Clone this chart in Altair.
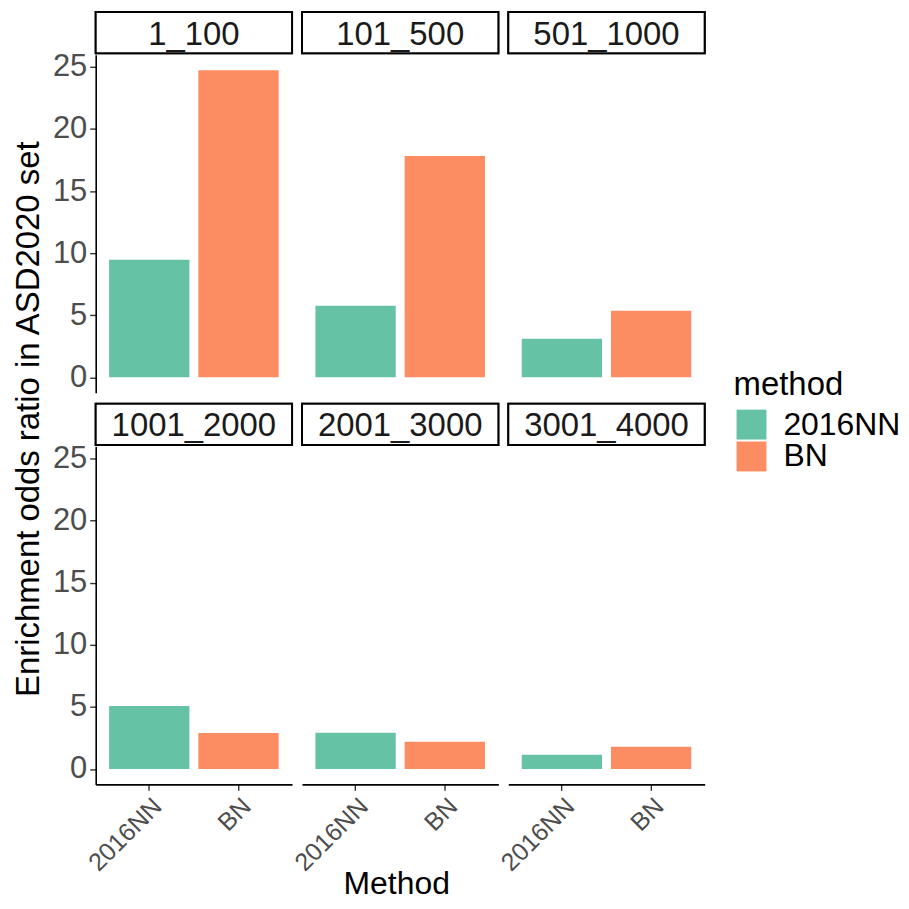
import altair as alt
import pandas as pd

bins = ["1_100", "101_500", "501_1000", "1001_2000", "2001_3000", "3001_4000"]
methods = ["2016NN", "BN"]
nn_values = [9.46, 5.76, 3.11, 5.07, 2.93, 1.15]
bn_values = [24.73, 17.82, 5.36, 2.91, 2.20, 1.79]
colors = ["#66C2A5", "#FC8D62"]
y_ticks = [0, 5, 10, 15, 20, 25]
y_title = "Enrichment odds ratio in ASD2020 set"
x_title = "Method"
legend_title = "method"

rows = []
for b, nn, bn in zip(bins, nn_values, bn_values):
    rows.append({"bin": b, "method": "2016NN", "value": nn})
    rows.append({"bin": b, "method": "BN", "value": bn})
df = pd.DataFrame(rows)

W = 197
H = 339
ymax = max(bn_values + nn_values)
ylo = -0.05 * ymax
yhi = ymax * 1.05

legend = alt.Legend(title=legend_title, orient="none", legendX=640, legendY=315,
                    padding=0, symbolType="square", symbolSize=900,
                    symbolStrokeWidth=0, symbolOffset=2, labelFontSize=32,
                    titleFontSize=33, titleFontWeight="normal",
                    titleColor="#000000", labelColor="#000000",
                    labelOffset=16, rowPadding=0, titlePadding=7)


def panel(i):
    b = bins[i]
    left = i % 3 == 0
    bottom = i >= 3
    data = df[df["bin"] == b]
    if bottom:
        xaxis = alt.Axis(title=None, labelAngle=-45, labelAlign="right",
                         labelBaseline="top", labelFontSize=25, labelColor="#4D4D4D",
                         labelPadding=3, tickSize=6, tickColor="#333333", tickWidth=1.4,
                         domainColor="#000000", domainWidth=1.6)
    else:
        xaxis = None
    if left:
        yaxis = alt.Axis(values=y_ticks, grid=False, title=None,
                         labelFontSize=31, labelColor="#4D4D4D", labelPadding=3,
                         tickSize=6, tickColor="#333333", tickWidth=1.4,
                         domainColor="#000000", domainWidth=1.6)
    else:
        yaxis = None
    bars = alt.Chart(data).mark_bar(clip=False).encode(
        x=alt.X("method:N", sort=methods,
                scale=alt.Scale(domain=methods, paddingInner=0.1, paddingOuter=0.15),
                axis=xaxis),
        y=alt.Y("value:Q",
                scale=alt.Scale(domain=[ylo, yhi], nice=False, zero=False),
                axis=yaxis),
        y2=alt.datum(0),
        color=alt.Color("method:N", sort=methods,
                        scale=alt.Scale(domain=methods, range=colors),
                        legend=legend),
    )
    strip_box = alt.Chart(data).mark_rect(fill="white", stroke="black", strokeWidth=2).encode(
        x=alt.value(0), x2=alt.value(W), y=alt.value(-43), y2=alt.value(-1.5)
    )
    strip_text = alt.Chart(pd.DataFrame({"bin": [b]})).mark_text(
        fontSize=33, color="#1A1A1A", baseline="alphabetic", align="center"
    ).encode(x=alt.value(W / 2), y=alt.value(-10.3), text="bin:N")
    layers = [bars, strip_box, strip_text]
    if i == 0:
        layers.append(
            alt.Chart(pd.DataFrame({"t": [y_title]})).mark_text(
                fontSize=33, color="#000000", angle=270, align="center",
                baseline="alphabetic"
            ).encode(x=alt.value(-57), y=alt.value(365.6), text="t:N")
        )
    if i == 4:
        layers.append(
            alt.Chart(pd.DataFrame({"t": [x_title]})).mark_text(
                fontSize=32, color="#000000", align="center", baseline="alphabetic"
            ).encode(x=alt.value(W / 2 - 3.5), y=alt.value(H + 110), text="t:N")
        )
    return alt.layer(*layers).properties(width=W, height=H)


chart = alt.concat(
    *[panel(i) for i in range(6)],
    columns=3,
    spacing={"row": 54, "column": 10},
    bounds="flush",
).properties(
    padding={"left": 4, "top": 1.5, "right": 0, "bottom": -6}
).configure(font="Liberation Sans").configure_view(stroke="transparent", strokeWidth=0)

chart.save("out.html", embed_options={"renderer": "svg", "actions": False})
